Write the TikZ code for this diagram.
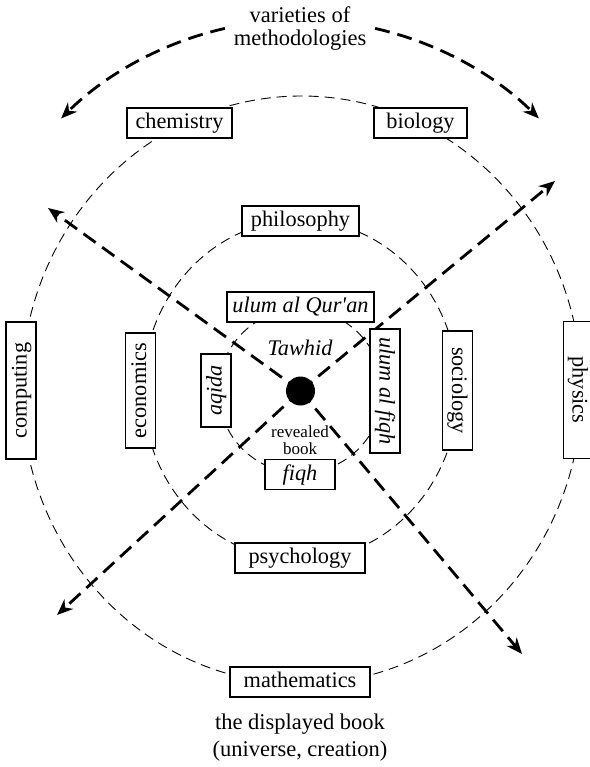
\documentclass[tikz,border=0pt]{standalone}
\usepackage{fontspec}
\setmainfont{Liberation Serif}
\usetikzlibrary{arrows.meta}
\begin{document}
\begin{tikzpicture}[x=1pt,y=-1pt,
  lbl/.style={draw, line width=1.1pt, fill=white, font=\fontsize{22.3}{26}\selectfont,
    text height=15.5pt, text depth=4.5pt, inner ysep=5pt, inner xsep=0pt},
  itl/.style={lbl, font=\fontsize{22.3}{26}\selectfont\itshape},
  ring/.style={line width=0.9pt, dash pattern=on 10pt off 6pt},
  arr/.style={line width=2.8pt, dash pattern=on 15pt off 8pt,
    -{Stealth[length=16pt,width=13pt,inset=5pt]}},
  caption/.style={font=\fontsize{22.5}{23}\selectfont, align=center, inner sep=0pt}
]
\useasboundingbox (0,0) rectangle (589,767);

% rings
\coordinate (ctr) at (300.5,391);
\coordinate (rc) at (301.5,390);
\draw[ring] (rc) ellipse [x radius=280, y radius=294];
\draw[ring] (300.5,390) ellipse [x radius=157.5, y radius=170];
\draw[ring] (ctr) circle [radius=82];

% radial arrows
\coordinate (ul) at (48,208);
\coordinate (ur) at (555,181);
\coordinate (ll) at (57,615);
\coordinate (lr) at (522,654);
\draw[arr] (ctr) -- (ul);
\draw[arr] (ctr) -- (ur);
\draw[arr] (ctr) -- (ll);
\draw[arr] (ctr) -- (lr);

% top arcs
\coordinate (al) at (224.9,28.4);
\coordinate (ar) at (375.1,28.4);
\draw[arr] (al) arc[start angle=-102.8, end angle=-134.8, radius=339];
\draw[arr] (ar) arc[start angle=-77.2, end angle=-45.2, radius=339];

% outer ring boxes
\node[lbl, minimum width=105pt] (chem) at (179.5,123) {chemistry};
\node[lbl, minimum width=93pt] (bio) at (420.5,123) {biology};
\node[lbl, minimum width=140pt] (math) at (300,682) {mathematics};
\node[lbl, minimum width=137pt, rotate=90] (comp) at (21,390.5) {computing};
\node[lbl, minimum width=137pt, rotate=-90, text height=14pt, text depth=4pt] (phys) at (577.5,390) {physics};

% middle ring boxes
\node[lbl, minimum width=117pt] (phil) at (300.5,221) {philosophy};
\node[lbl, minimum width=130pt] (psych) at (300,558) {psychology};
\node[lbl, minimum width=115pt, rotate=90] (econ) at (140.5,390.5) {economics};
\node[lbl, minimum width=119pt, rotate=-90] (soc) at (457.5,390.5) {sociology};

% inner ring boxes
\node[itl, minimum width=147pt] (quran) at (300.5,307) {ulum al Qur\textquotesingle an};
\node[itl, minimum width=70pt] (fiqh) at (300,474.5) {fiqh};
\node[itl, minimum width=73pt, rotate=90] (aqida) at (216,390.5) {aqida};
\node[itl, minimum width=124pt, rotate=-90] (ufiqh) at (385,391) {ulum al fiqh};

% centre
\node[circle, fill=black, inner sep=0pt, minimum size=29pt] (dot) at (ctr) {};
\node[font=\fontsize{22.3}{26}\selectfont\itshape, inner sep=0pt] (tawhid) at (300,348) {Tawhid};
\node[font=\fontsize{17}{17}\selectfont, align=center, inner sep=0pt] (rev) at (300,440) {revealed\\book};

% captions
\node[caption] (top) at (300,29) {varieties of\\methodologies};
\node[caption, font=\fontsize{22.5}{27}\selectfont] (bottom) at (300,738) {the displayed book\\(universe, creation)};
\end{tikzpicture}
\end{document}
